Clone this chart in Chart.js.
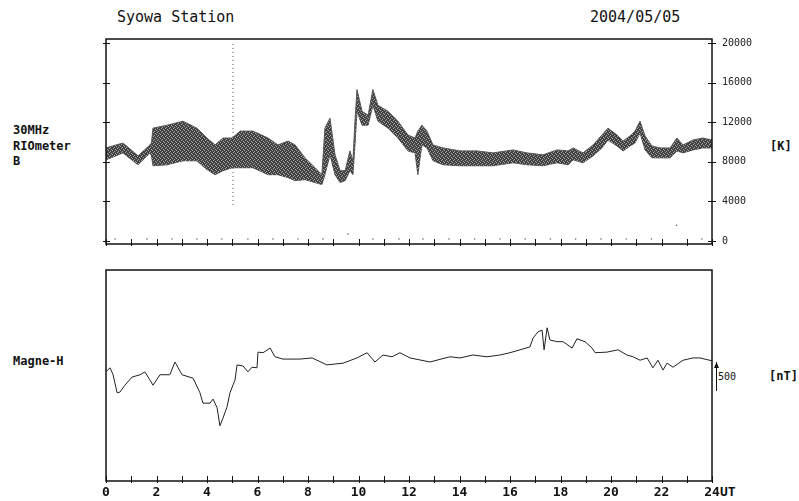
<!DOCTYPE html>
<html>
<head>
<meta charset="utf-8">
<script src="https://cdn.jsdelivr.net/npm/chart.js@4"></script>
<style>
  body { margin: 0; background: #fff; }
  #page { position: relative; width: 799px; height: 501px; overflow: hidden; font-family: "DejaVu Sans Mono", monospace; color: #111; }
  canvas { position: absolute; left: 0; }
  .lbl { position: absolute; white-space: pre; line-height: 15.5px; font-size: 12px; font-weight: bold; }
</style>
</head>
<body>
<div id="page">
  <div class="lbl" style="left:117px; top:10px; font-size:15px; font-weight:normal; line-height:15px;">Syowa Station</div>
  <div class="lbl" style="left:590px; top:10px; font-size:15px; font-weight:normal; line-height:15px;">2004/05/05</div>
  <div class="lbl" style="left:13px; top:123px;">30MHz
RIOmeter
B</div>
  <div class="lbl" style="left:770px; top:139px;">[K]</div>
  <div class="lbl" style="left:13px; top:354px;">Magne-H</div>
  <div class="lbl" style="left:769px; top:369px;">[nT]</div>
  <div class="lbl" style="left:718px; top:369px; font-size:10px; font-weight:normal;">500</div>
  <div class="lbl" style="left:720px; top:485px; font-size:13px; line-height:13px;">UT</div>
  <canvas id="rio" width="799" height="260" style="top:0"></canvas>
  <canvas id="mag" width="799" height="241" style="top:260px"></canvas>
</div>
<script>
// riometer 30MHz band (upper / lower edge of the noisy trace), K
const rioHours = [0, 0.67, 1.27, 1.74, 1.80, 1.86, 2.42, 3.05, 3.60, 4.00, 4.32, 4.63, 5.00, 5.31, 5.82,
  6.42, 6.81, 7.21, 7.49, 7.88, 8.28, 8.55, 8.67, 8.87, 9.07, 9.27, 9.47, 9.66, 9.78, 9.86, 9.94,
  10.14, 10.38, 10.57, 10.77, 11.17, 11.56, 11.96, 12.24, 12.35, 12.51, 12.71, 12.95, 13.35, 14.02,
  14.69, 15.33, 16.12, 16.67, 17.31, 17.86, 18.30, 18.50, 18.89, 19.29, 19.64, 19.88, 20.24, 20.48,
  20.75, 20.95, 21.15, 21.35, 21.62, 21.94, 22.34, 22.61, 22.85, 23.25, 23.64, 24.0];
const rioUpper = [9400, 9900, 8600, 9700, 9900, 11400, 11700, 12100, 11400, 10400, 9700, 10400, 10400, 11100, 11100,
  10400, 9700, 10100, 9700, 8400, 7400, 6700, 11400, 12400, 8700, 7100, 7100, 9100, 8100, 12100, 15300,
  13100, 12700, 15300, 13700, 13100, 12100, 10700, 10400, 11100, 11700, 11100, 9700, 9400, 9100,
  9100, 8900, 9200, 8900, 8700, 9200, 9100, 9400, 8900, 9700, 10700, 11400, 10700, 10100,
  10600, 11100, 12100, 10600, 9600, 9400, 9400, 10400, 9700, 10200, 10400, 10200];
const rioLower = [8200, 8900, 7700, 8900, 8600, 7600, 7700, 8100, 8100, 7200, 6700, 7100, 7400, 7400, 7400,
  6700, 6700, 6400, 6100, 6200, 5900, 5700, 6700, 8700, 6700, 5900, 6100, 7100, 6700, 9700, 13100,
  11700, 11700, 13700, 12100, 11400, 10400, 9100, 8900, 6700, 9700, 9400, 8100, 7700, 7600,
  7600, 7600, 7900, 7700, 7600, 7900, 7700, 8200, 7900, 8600, 9400, 10200, 9600, 9100,
  9600, 9900, 10900, 9200, 8400, 8400, 8400, 9100, 8900, 9200, 9400, 9400];
// isolated spike at ~05:02 UT
const spikeHours = [5.03, 5.03];
const spikeValues = [19900, 3600];
// baseline dots near zero
const dotHours = [0.36, 1.62, 2.61, 3.6, 4.59, 5.62, 6.61, 7.6, 8.59, 9.58, 10.57, 11.6, 12.55, 13.58,
  14.6, 15.6, 16.6, 17.6, 18.6, 19.6, 20.6, 21.6, 22.6, 23.6];
const dotValues = [200, 200, 200, 200, 200, 200, 200, 200, 200, 700, 200, 200, 200, 200,
  200, 200, 200, 200, 200, 200, 200, 200, 1600, 200];
const rioTicks = [0, 4000, 8000, 12000, 16000, 20000];

// magnetometer H component, nT (relative)
const magHours = [0, 0.16, 0.28, 0.44, 0.55, 0.75, 1.03, 1.35, 1.54, 1.74, 1.86, 2.14, 2.53, 2.73, 3.01,
  3.45, 3.72, 3.84, 4.12, 4.24, 4.40, 4.51, 4.63, 4.79, 4.91, 5.11, 5.19, 5.43, 5.62, 5.78, 5.98, 6.02,
  6.22, 6.50, 6.69, 7.01, 7.68, 8.16, 8.75, 9.39, 9.94, 10.34, 10.65, 10.97, 11.33, 11.64, 12.04, 12.83,
  13.62, 14.02, 14.53, 15.09, 15.60, 16.00, 16.40, 16.79, 16.91, 17.11, 17.27, 17.35, 17.47, 17.58,
  17.86, 18.10, 18.46, 18.65, 18.97, 19.25, 19.37, 19.84, 20.28, 20.63, 20.87, 21.15, 21.43, 21.66,
  21.86, 22.06, 22.22, 22.46, 22.85, 23.25, 23.52, 24.0];
const magValues = [330, 400, 280, -30, -20, 100, 240, 280, 330, 190, 100, 280, 280, 500, 280,
  220, -30, -210, -210, -140, -290, -600, -470, -280, -30, 190, 450, 430, 330, 410, 400, 670,
  660, 740, 590, 550, 550, 570, 450, 480, 570, 660, 500, 620, 590, 660, 570, 500,
  590, 570, 620, 590, 620, 660, 710, 760, 910, 1020, 1050, 710, 1090, 880,
  850, 850, 740, 900, 850, 740, 660, 670, 710, 620, 590, 530, 570, 400,
  530, 360, 480, 410, 530, 570, 570, 520];

const hourTicks = Array.from({ length: 25 }, (_, i) => i);

function pts(xs, ys) {
  return xs.map((x, i) => ({ x: x, y: ys[i] }));
}

// stippled fill for the riometer band
const bandFill = (function() {
  const c = document.createElement('canvas');
  c.width = 4; c.height = 4;
  const g = c.getContext('2d');
  g.fillStyle = '#404040';
  g.fillRect(0, 0, 4, 4);
  g.fillStyle = '#a8a8a8';
  g.fillRect(1, 0, 1, 1);
  g.fillRect(3, 1, 1, 1);
  g.fillRect(0, 2, 1, 1);
  g.fillRect(2, 3, 1, 1);
  return g.createPattern(c, 'repeat');
})();

// box, hour ticks, y ticks and the scale arrow
const frame = {
  id: 'frame',
  afterDatasetsDraw(chart, args, opts) {
    const ctx = chart.ctx, a = chart.chartArea, xs = chart.scales.x, ys = chart.scales.y;
    ctx.save();
    ctx.strokeStyle = '#111';
    ctx.lineWidth = 1.5;
    ctx.strokeRect(a.left, a.top, a.right - a.left, a.bottom - a.top);
    ctx.lineWidth = 1;
    ctx.beginPath();
    hourTicks.forEach(function(h) {
      const x = Math.round(xs.getPixelForValue(h)) + 0.5;
      ctx.moveTo(x, a.bottom - 5);
      ctx.lineTo(x, a.bottom + 2);
    });
    (opts.yTicks || []).forEach(function(v) {
      const y = Math.round(ys.getPixelForValue(v)) + 0.5;
      ctx.moveTo(a.left - 3, y); ctx.lineTo(a.left + 4, y);
      ctx.moveTo(a.right - 4, y); ctx.lineTo(a.right + 4, y);
    });
    ctx.stroke();
    if (opts.arrow) {
      const x = a.right + 4.5;
      const y0 = ys.getPixelForValue(opts.arrow[0]);
      const y1 = ys.getPixelForValue(opts.arrow[1]);
      ctx.beginPath();
      ctx.moveTo(x, y0); ctx.lineTo(x, y1);
      ctx.stroke();
      ctx.beginPath();
      ctx.moveTo(x, y1); ctx.lineTo(x - 2.5, y1 + 6); ctx.lineTo(x + 2.5, y1 + 6); ctx.closePath();
      ctx.fillStyle = '#111';
      ctx.fill();
    }
    ctx.restore();
  }
};

const hidden = { display: false, drawTicks: false };

new Chart(document.getElementById('rio'), {
  type: 'line',
  data: {
    datasets: [
      { data: pts(rioHours, rioUpper), borderColor: '#555', borderWidth: 1, pointRadius: 0, fill: '+1', backgroundColor: bandFill },
      { data: pts(rioHours, rioLower), borderColor: '#555', borderWidth: 1, pointRadius: 0, fill: false },
      { data: pts(spikeHours, spikeValues), borderColor: '#555', borderWidth: 1, borderDash: [1, 3], pointRadius: 0, fill: false },
      { type: 'scatter', data: pts(dotHours, dotValues), pointRadius: 0.8, backgroundColor: '#666', borderWidth: 0 }
    ]
  },
  options: {
    responsive: false,
    animation: false,
    events: [],
    layout: { padding: { left: 106, top: 39, right: 0, bottom: 0 } },
    plugins: { legend: { display: false }, tooltip: { enabled: false }, frame: { yTicks: rioTicks } },
    scales: {
      x: {
        type: 'linear', min: 0, max: 24,
        grid: hidden, border: { display: false },
        ticks: { display: false },
        afterFit: function(s) { s.height = 12; }
      },
      y: {
        position: 'right', min: -300, max: 20400,
        grid: hidden, border: { display: false },
        afterBuildTicks: function(s) { s.ticks = rioTicks.map(v => ({ value: v })); },
        ticks: {
          padding: 10, color: '#222', font: { family: 'DejaVu Sans Mono', size: 10 },
          callback: function(v) { return String(v); }
        },
        afterFit: function(s) { s.width = 87; }
      }
    }
  },
  plugins: [frame]
});

new Chart(document.getElementById('mag'), {
  type: 'line',
  data: {
    datasets: [
      { data: pts(magHours, magValues), borderColor: '#222', borderWidth: 1, pointRadius: 0, fill: false }
    ]
  },
  options: {
    responsive: false,
    animation: false,
    events: [],
    layout: { padding: { left: 106, top: 10, right: 0, bottom: 0 } },
    plugins: { legend: { display: false }, tooltip: { enabled: false }, frame: { arrow: [0, 500] } },
    scales: {
      x: {
        type: 'linear', min: 0, max: 24,
        grid: hidden, border: { display: false },
        afterBuildTicks: function(s) { s.ticks = hourTicks.map(v => ({ value: v })); },
        ticks: {
          autoSkip: false, maxRotation: 0, padding: 4, color: '#111',
          font: { family: 'DejaVu Sans Mono', size: 13, weight: 'bold' },
          callback: function(v) { return v % 2 === 0 ? String(v) : ''; }
        },
        afterFit: function(s) { s.height = 20; }
      },
      y: {
        position: 'right', min: -1552, max: 2086,
        grid: hidden, border: { display: false },
        ticks: { display: false },
        afterFit: function(s) { s.width = 87; }
      }
    }
  },
  plugins: [frame]
});
</script>
</body>
</html>
